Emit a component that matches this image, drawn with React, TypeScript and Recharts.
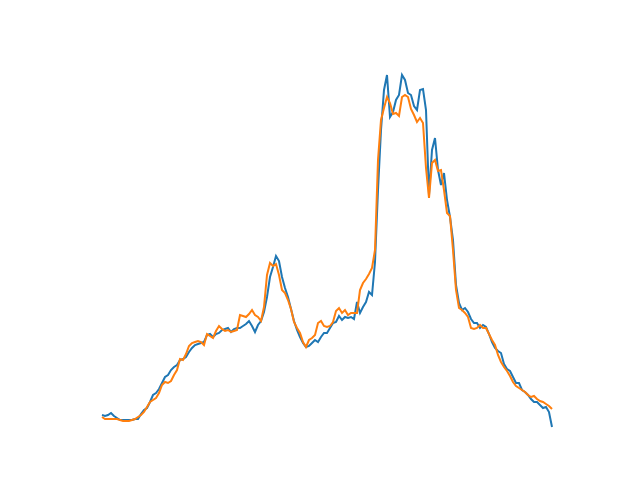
import React from "react";
import { LineChart, Line, XAxis, YAxis } from "recharts";

const seriesA: number[] = [
  15, 14, 15, 17, 14, 12, 10, 10, 10, 10,
  10, 11, 11, 16, 20, 22, 28, 35, 37, 41,
  47, 53, 55, 60, 63, 65, 70, 71, 73, 78,
  82, 85, 86, 87, 88, 95, 96, 93, 96, 97,
  100, 101, 102, 98, 101, 102, 102, 104, 106, 109,
  104, 98, 105, 109, 118, 133, 153, 163, 174, 169,
  153, 142, 133, 121, 109, 100, 93, 87, 83, 84,
  87, 90, 88, 93, 97, 97, 102, 107, 108, 114,
  110, 113, 112, 113, 111, 128, 117, 123, 128, 138,
  135, 168, 240, 300, 340, 355, 313, 318, 330, 335,
  355, 350, 337, 335, 324, 320, 340, 341, 320, 235,
  280, 292, 260, 245, 257, 230, 213, 190, 145, 127,
  120, 122, 118, 111, 107, 107, 102, 105, 103, 96,
  88, 82, 79, 77, 66, 61, 59, 53, 47, 47,
  40, 38, 35, 31, 28, 28, 25, 22, 23, 18,
  3,
];

const seriesB: number[] = [
  13, 11, 11, 11, 11, 11, 10, 9, 9, 9,
  10, 11, 13, 15, 18, 23, 28, 30, 32, 37,
  45, 48, 47, 49, 55, 60, 71, 70, 76, 84,
  87, 88, 89, 88, 85, 96, 94, 92, 99, 104,
  101, 99, 100, 98, 99, 100, 115, 114, 113, 116,
  120, 115, 113, 109, 123, 155, 167, 164, 166, 155,
  140, 137, 130, 121, 108, 102, 97, 88, 83, 90,
  92, 95, 107, 109, 104, 103, 104, 108, 119, 122,
  117, 120, 115, 117, 117, 117, 140, 147, 151, 156,
  162, 180, 270, 310, 322, 333, 327, 316, 317, 314,
  333, 335, 333, 321, 315, 308, 312, 307, 262, 232,
  267, 270, 259, 260, 240, 217, 214, 180, 140, 122,
  120, 117, 113, 102, 101, 102, 105, 102, 102, 96,
  90, 85, 75, 68, 63, 59, 54, 48, 44, 42,
  40, 38, 35, 33, 34, 31, 29, 28, 26, 24,
  21,
];

const steps = seriesA.map((_, i) => i);

const data = steps.map((i) => ({ step: i, a: seriesA[i], b: seriesB[i] }));

export default function App() {
  return (
    <div style={{ position: "absolute", left: 0, top: 0, width: 640, height: 480, background: "#fff" }}>
      <LineChart width={640} height={480} data={data} margin={{ top: 0, right: 88, bottom: 50, left: 102 }}>
        <XAxis dataKey="step" type="number" domain={[0, steps.length - 1]} hide />
        <YAxis type="number" domain={[0, 430]} hide />
        <Line type="linear" dataKey="a" stroke="#1f77b4" strokeWidth={2} dot={false} isAnimationActive={false} />
        <Line type="linear" dataKey="b" stroke="#ff7f0e" strokeWidth={2} dot={false} isAnimationActive={false} />
      </LineChart>
    </div>
  );
}
